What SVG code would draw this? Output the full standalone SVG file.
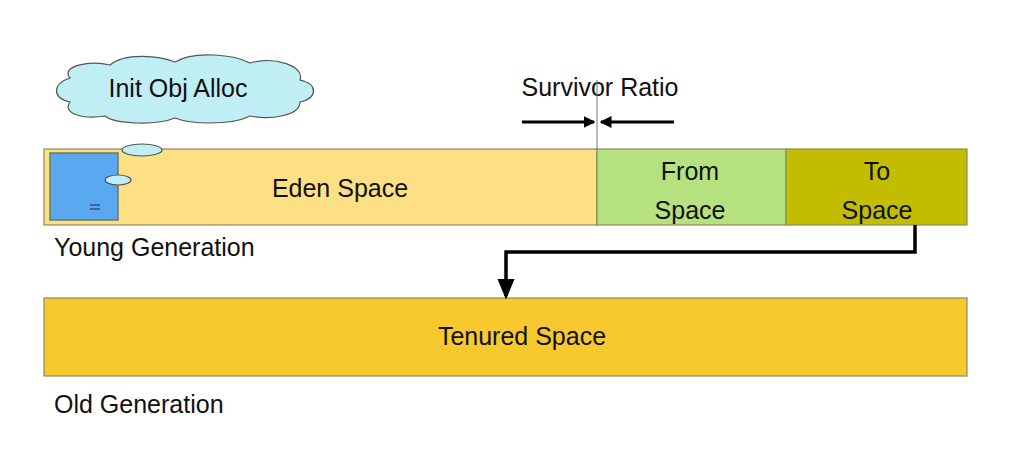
<svg xmlns="http://www.w3.org/2000/svg" width="1028" height="456" viewBox="0 0 1028 456">
<style>
text{font-family:"Liberation Sans",Arial,sans-serif;fill:#111}
.l{font-size:25px}
.bx{stroke:#8a8a60;stroke-width:1.2}
.cl{fill:#bfeef5;stroke:#555;stroke-width:1.2}
.c{fill:none;stroke:#000;stroke-width:4}
</style>
<defs>
<marker id="ah" markerWidth="4" markerHeight="4" refX="3.5" refY="2" orient="auto" markerUnits="strokeWidth"><path d="M0,0 L4,2 L0,4 Z" fill="#000"/></marker>
<marker id="ah2" markerWidth="6" markerHeight="6" refX="5" refY="3" orient="auto" markerUnits="strokeWidth"><path d="M0,0.5 L6,3 L0,5.5 Z" fill="#000"/></marker>
</defs>
<rect width="1028" height="456" fill="#fff"/>
<g id="cloud">
<path class="cl" d="M70,78 C60,66 90,60 110,65 C125,52 160,56 175,62 C195,50 235,55 250,63 C275,56 305,66 300,80 C318,84 318,98 300,102 C300,116 270,120 250,116 C230,126 190,124 175,118 C155,126 115,124 105,116 C80,120 62,112 70,102 C52,98 52,84 70,78 Z"/>
<text class="l" x="178" y="97" text-anchor="middle">Init Obj Alloc</text>
</g>
<g id="eden">
<rect class="bx" x="44" y="149" width="553" height="76" fill="#fde084"/>
<text class="l" x="340" y="197" text-anchor="middle">Eden Space</text>
</g>
<g id="obj">
<rect x="50" y="153" width="68" height="67" fill="#5aa9f0" stroke="#6a7a60" stroke-width="1.5"/>
<path d="M90,205 H100 M90,209 H100" stroke="#223" stroke-width="1.2"/>
<ellipse class="cl" cx="142" cy="150" rx="20" ry="6"/>
<ellipse class="cl" cx="118" cy="180" rx="13" ry="5"/>
</g>
<g id="from">
<rect class="bx" x="597" y="149" width="189" height="76" fill="#b5e27e"/>
<text class="l" x="690" y="180" text-anchor="middle">From</text>
<text class="l" x="690" y="219" text-anchor="middle">Space</text>
</g>
<g id="to">
<rect class="bx" x="786" y="149" width="181" height="76" fill="#c2bd00"/>
<text class="l" x="877" y="180" text-anchor="middle">To</text>
<text class="l" x="877" y="219" text-anchor="middle">Space</text>
</g>
<text class="l" x="54" y="256">Young Generation</text>
<g id="tenured">
<rect class="bx" x="44" y="298" width="923" height="78" fill="#f8c92e"/>
<text class="l" x="522" y="345" text-anchor="middle">Tenured Space</text>
</g>
<text class="l" x="54" y="413">Old Generation</text>
<g id="ratio">
<text class="l" x="600" y="96" text-anchor="middle">Survivor Ratio</text>
<line x1="597" y1="80" x2="597" y2="149" stroke="#777" stroke-width="1"/>
</g>
<g id="connectors">
<path d="M522,122 H594" stroke="#000" stroke-width="3" fill="none" marker-end="url(#ah)"/>
<path d="M674,122 H601" stroke="#000" stroke-width="3" fill="none" marker-end="url(#ah)"/>
<path d="M915,225 V252 H506 V296" stroke="#000" stroke-width="3.5" fill="none" marker-end="url(#ah2)"/>
</g>
</svg>
